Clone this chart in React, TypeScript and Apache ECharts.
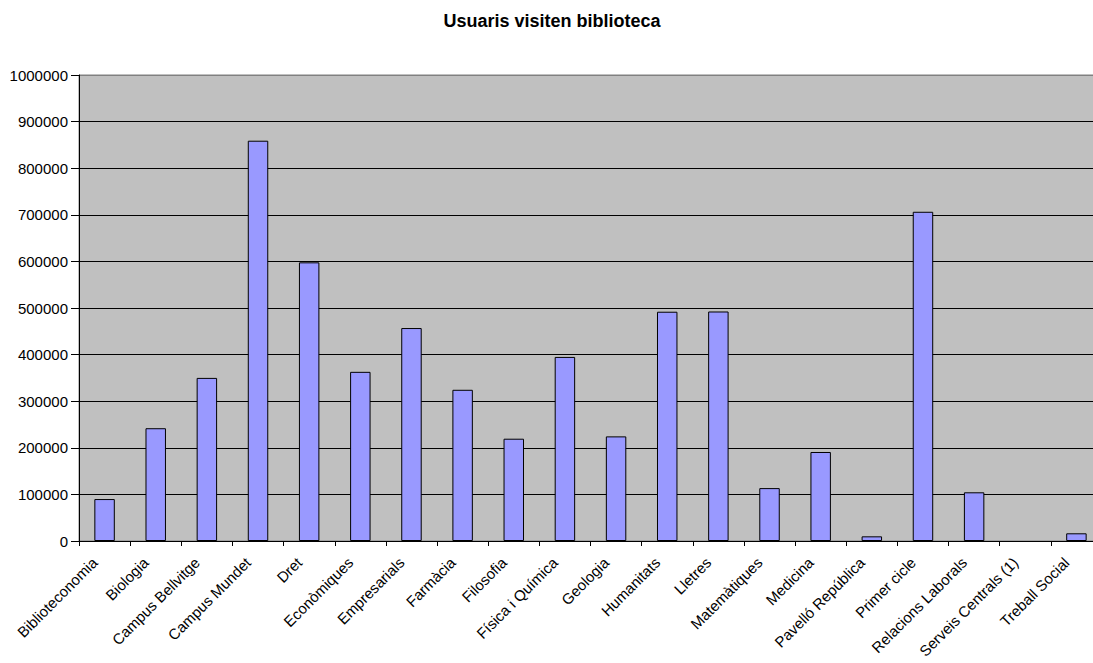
import React, { useEffect, useRef } from "react";
import * as echarts from "echarts";

const TITLE = "Usuaris visiten biblioteca";
const categories = [
  "Biblioteconomia",
  "Biologia",
  "Campus Bellvitge",
  "Campus Mundet",
  "Dret",
  "Econòmiques",
  "Empresarials",
  "Farmàcia",
  "Filosofia",
  "Física i Química",
  "Geologia",
  "Humanitats",
  "Lletres",
  "Matemàtiques",
  "Medicina",
  "Pavelló República",
  "Primer cicle",
  "Relacions Laborals",
  "Serveis Centrals (1)",
  "Treball Social",
];
const visits = [
  90000, 242000, 350000, 859000, 598000, 363000, 457000, 324500, 219500,
  395000, 224500, 492000, 492500, 113500, 191000, 10000, 706500, 104500, 0,
  16500,
];
const yMin = 0;
const yMax = 1000000;
const yStep = 100000;

export default function App() {
  const ref = useRef<HTMLDivElement>(null);
  useEffect(() => {
    if (!ref.current) return;
    const chart = echarts.init(ref.current, undefined, { renderer: "svg" });
    const font = "'Liberation Sans', Arial, sans-serif";
    const gridColors = Array.from({ length: 11 }, (_, i) =>
      i === 10 ? "#808080" : "#000000"
    );
    chart.setOption({
      animation: false,
      backgroundColor: "#ffffff",
      graphic: [
        {
          type: "text",
          x: 552,
          y: 21,
          style: {
            text: TITLE,
            fill: "#000",
            font: `bold 18px ${font}`,
            textAlign: "center",
            textVerticalAlign: "middle",
          },
        },
      ],
      grid: {
        left: 79,
        right: 8,
        top: 75,
        bottom: 122,
        show: true,
        backgroundColor: "#C0C0C0",
        borderColor: "#808080",
        borderWidth: 1,
      },
      xAxis: {
        type: "category",
        data: categories,
        axisLine: { show: true, lineStyle: { color: "#000", width: 1 } },
        axisTick: { show: true, length: 5, lineStyle: { color: "#000" } },
        axisLabel: {
          rotate: 45,
          interval: 0,
          margin: 9,
          padding: [0, 14, 0, 0],
          color: "#000",
          fontSize: 15,
          fontFamily: font,
        },
        splitLine: { show: false },
      },
      yAxis: {
        type: "value",
        min: yMin,
        max: yMax,
        interval: yStep,
        axisLine: { show: true, lineStyle: { color: "#000", width: 1 } },
        axisTick: { show: true, length: 8, lineStyle: { color: "#000" } },
        axisLabel: {
          margin: 11,
          color: "#000",
          fontSize: 15,
          fontFamily: font,
          formatter: (v: number) => String(v),
        },
        splitLine: { show: true, lineStyle: { color: gridColors, width: 1 } },
      },
      series: [
        {
          type: "bar",
          data: visits.map((v) =>
            v === 0 ? { value: v, itemStyle: { borderWidth: 0 } } : v
          ),
          barWidth: "40%",
          itemStyle: {
            color: "#9999FF",
            borderColor: "#000",
            borderWidth: 1,
          },
        },
      ],
    });
    return () => chart.dispose();
  }, []);
  return (
    <div
      style={{
        position: "absolute",
        left: 0,
        top: 0,
        width: 1093,
        height: 663,
        overflow: "hidden",
        background: "#fff",
      }}
    >
      <div ref={ref} style={{ width: 1110, height: 663 }} />
    </div>
  );
}
